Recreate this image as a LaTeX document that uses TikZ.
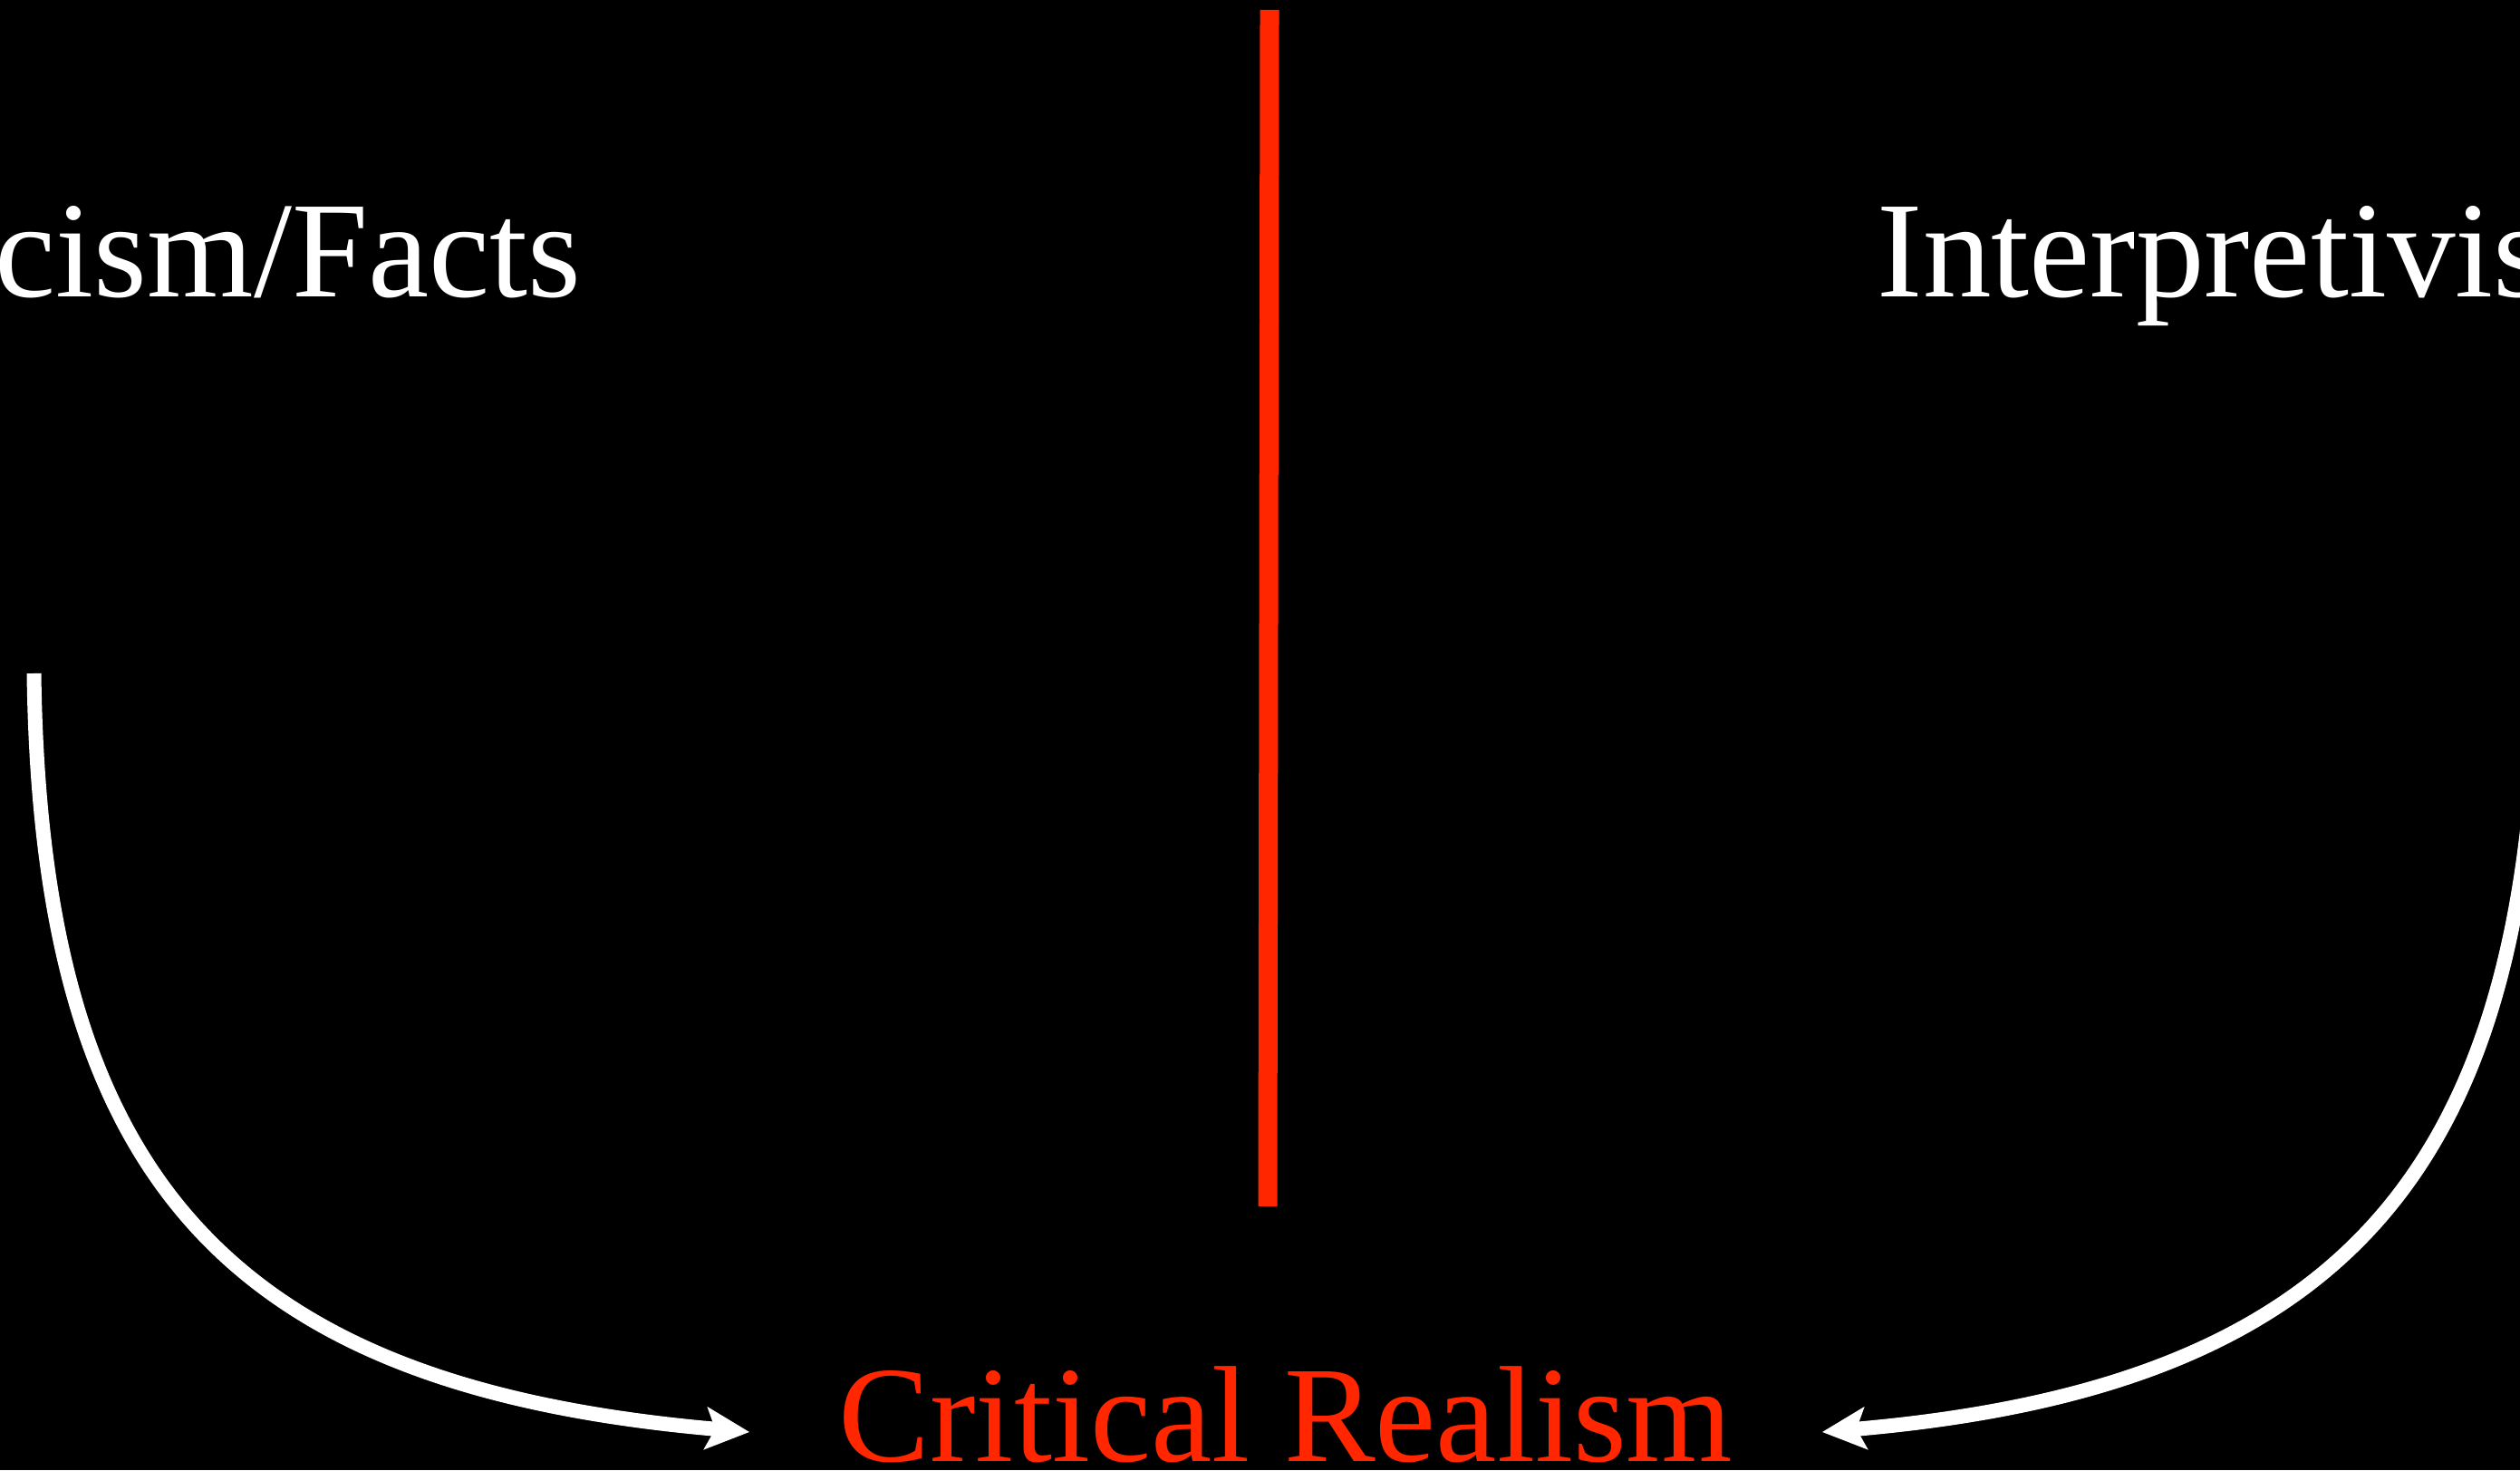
\documentclass[tikz,border=0pt]{standalone}
\usepackage{fontspec}
\setmainfont{Liberation Serif}
\usepackage{xcolor}
\usepackage{tikz}
\usetikzlibrary{arrows.meta, positioning}
\definecolor{keyred}{RGB}{255,38,0}

\begin{document}
\begin{tikzpicture}[
    phrase/.style={inner sep=0pt, font=\fontsize{43}{50}\selectfont},
    curvearrow/.style={draw=white, line width=0.16cm, -{Stealth[length=0.48cm, width=0.46cm, inset=0.1cm]}}
]

% Background
\fill[black] (0,0) rectangle (27.81,16.22);
\useasboundingbox (0,0) rectangle (27.81,16.22);
\clip (0,0) rectangle (27.81,16.22);

% Headings
\node[phrase, text=white, anchor=base east] (facts) at (6.42,12.94) {cism/Facts};
\node[phrase, text=white, anchor=base west] (interp) at (20.71,12.94) {Interpretivism};
\node[phrase, text=keyred, anchor=base] (critical) at (14.19,0.10) {Critical Realism};

% Divider
\coordinate (dividertop) at (14.01,16.11);
\coordinate (dividerfoot) at (13.99,2.91);
\draw[keyred, line width=0.21cm] (dividertop) -- (dividerfoot);

% Arrows
\coordinate (factsfoot) at (0.375,8.79);
\coordinate (interpfoot) at (28.00,8.82);
\draw[curvearrow] (factsfoot) .. controls (0.45,3.22) and (2.50,0.92) .. ([shift={(-0.98,0.32)}]critical.base west);
\draw[curvearrow] (interpfoot) .. controls (27.90,3.32) and (25.90,0.92) .. ([shift={(0.98,0.32)}]critical.base east);

\end{tikzpicture}
\end{document}
